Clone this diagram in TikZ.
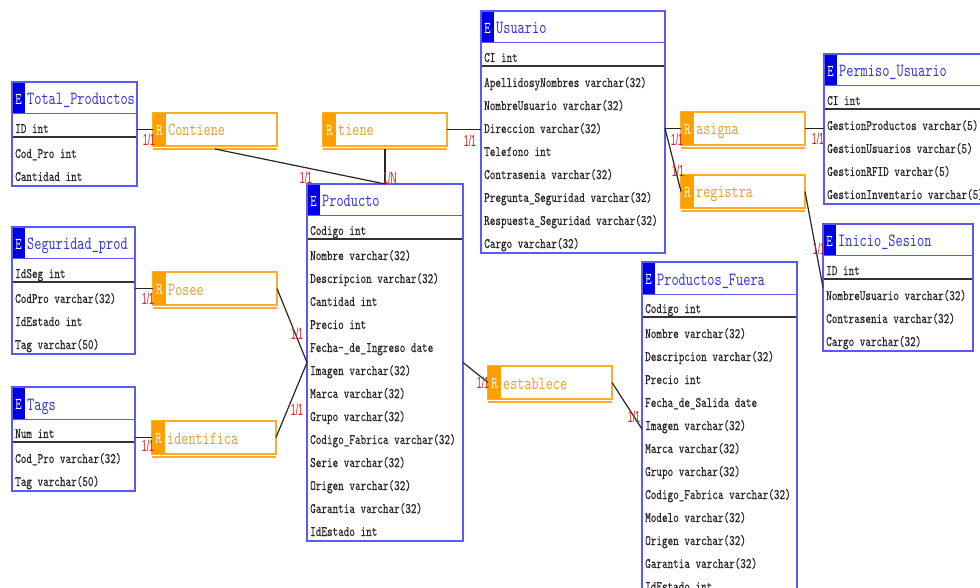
\documentclass[tikz,border=0pt]{standalone}
\usepackage{fontspec}
\usetikzlibrary{calc}
\newfontfamily\ermono{lmmono10-regular.otf}[FakeStretch=0.735]
\newfontfamily\ermonoattr{lmmono10-regular.otf}[FakeStretch=0.735, FakeBold=0.35]
\newfontfamily\cardfont{Liberation Sans}[FakeStretch=0.55]

\definecolor{entborder}{RGB}{90,90,245}
\definecolor{entfill}{RGB}{0,0,228}
\definecolor{enttitle}{RGB}{55,55,215}
\definecolor{attrcol}{RGB}{40,40,40}
\definecolor{relborder}{RGB}{255,172,40}
\definecolor{relfill}{RGB}{255,160,0}
\definecolor{reltextcol}{RGB}{228,160,60}
\definecolor{cardcol}{RGB}{225,30,30}

\tikzset{
  entbox/.style={draw=entborder, line width=1.3pt, fill=white, rectangle, inner sep=0pt, outer sep=0pt},
  entsep/.style={draw=entborder, line width=1pt},
  keyline/.style={draw=black!80, line width=1.8pt},
  titletext/.style={text=enttitle, inner sep=0pt, font=\ermono\fontsize{18.6}{19}\selectfont},
  tagtext/.style={text=white, inner sep=0pt, font=\ermono\fontsize{16.5}{17}\selectfont},
  attrtext/.style={text=attrcol, inner sep=0pt, font=\ermonoattr\fontsize{14.5}{15}\selectfont},
  relbox/.style={draw=relborder, line width=1.3pt, fill=white, rectangle, inner sep=0pt, outer sep=0pt},
  relline/.style={draw=relborder, line width=1.3pt},
  reltext/.style={text=reltextcol, inner sep=0pt, font=\ermono\fontsize{18.4}{19}\selectfont},
  conn/.style={draw=black!85, line width=1.2pt},
  card/.style={text=cardcol, inner sep=0pt, font=\cardfont\fontsize{16}{17}\selectfont}
}

% entity: name, left, top, width, number of attribute rows, title, key, attributes
\newcommand\erentity[8]{%
  \pgfmathsetmacro\entheight{58+23*#5}%
  \node[entbox, anchor=north west, minimum width=#4pt, minimum height=\entheight pt] (#1) at (#2,#3) {};
  \fill[entfill] (#1.north west) rectangle ++(13,32);
  \draw[entsep] ($(#1.north west)+(0,32)$) -- ($(#1.north east)+(0,32)$);
  \node[tagtext, anchor=base] (#1-tag) at ($(#1.north west)+(6.5,22.5)$) {E};
  \node[titletext, anchor=base west] (#1-title) at ($(#1.north west)+(15,23)$) {#6};
  \node[attrtext, anchor=base west] (#1-key) at ($(#1.north west)+(3,51)$) {#7};
  \draw[keyline] ($(#1.north west)+(0,55)$) -- ($(#1.north east)+(0,55)$);
  \foreach \attr [count=\i] in {#8} {
    \node[attrtext, anchor=base west] (#1-a\i) at ($(#1.north west)+(3,53+23*\i)$) {\attr};
  }
  \draw[draw=entborder, line width=1.3pt] (#1.north west) rectangle (#1.south east);
}

% relationship: name, left, top, label
\newcommand\errel[4]{%
  \node[relbox, anchor=north west, minimum width=124pt, minimum height=33pt] (#1) at (#2,#3) {};
  \fill[relfill] (#1.north west) rectangle ++(13,33);
  \draw[relline] ($(#1.south west)+(0,3)$) -- ($(#1.south east)+(0,3)$);
  \node[tagtext, text=white!90!yellow, anchor=base] (#1-tag) at ($(#1.north west)+(6.5,22.5)$) {R};
  \node[reltext, anchor=base west] (#1-label) at ($(#1.north west)+(15,23)$) {#4};
}

\begin{document}
\begin{tikzpicture}[x=1pt, y=-1pt]
  \useasboundingbox (0,0) rectangle (980,588);
  \fill[white] (0,0) rectangle (980,588);
  \clip (0,0) rectangle (980,588);

  % entities
  \erentity{tot}{12}{82}{125}{2}{Total\_Productos}{ID int}{Cod\_Pro int, Cantidad int}
  \erentity{seg}{12}{227}{123}{3}{Seguridad\_prod}{IdSeg int}{CodPro varchar(32), IdEstado int, Tag varchar(50)}
  \erentity{tags}{12}{387}{123}{2}{Tags}{Num int}{Cod\_Pro varchar(32), Tag varchar(50)}
  \erentity{prod}{307}{184}{156}{13}{Producto}{Codigo int}{Nombre varchar(32), Descripcion varchar(32), Cantidad int, Precio int, Fecha-\_de\_Ingreso date, Imagen varchar(32), Marca varchar(32), Grupo varchar(32), Codigo\_Fabrica varchar(32), Serie varchar(32), Origen varchar(32), Garantia varchar(32), IdEstado int}
  \erentity{usr}{481}{11}{184}{8}{Usuario}{CI int}{ApellidosyNombres varchar(32), NombreUsuario varchar(32), Direccion varchar(32), Telefono int, Contrasenia varchar(32), Pregunta\_Seguridad varchar(32), Respuesta\_Seguridad varchar(32), Cargo varchar(32)}
  \erentity{perm}{824}{54}{172}{4}{Permiso\_Usuario}{CI int}{GestionProductos varchar(5), GestionUsuarios varchar(5), GestionRFID varchar(5), GestionInventario varchar(5)}
  \erentity{ini}{823}{224}{150}{3}{Inicio\_Sesion}{ID int}{NombreUsuario varchar(32), Contrasenia varchar(32), Cargo varchar(32)}
  \erentity{pf}{642}{262}{155}{12}{Productos\_Fuera}{Codigo int}{Nombre varchar(32), Descripcion varchar(32), Precio int, Fecha\_de\_Salida date, Imagen varchar(32), Marca varchar(32), Grupo varchar(32), Codigo\_Fabrica varchar(32), Modelo varchar(32), Origen varchar(32), Garantia varchar(32), IdEstado int}

  % relationships
  \errel{contiene}{153}{113}{Contiene}
  \errel{tiene}{323}{113}{tiene}
  \errel{asigna}{681}{112}{asigna}
  \errel{registra}{681}{175}{registra}
  \errel{posee}{153}{272}{Posee}
  \errel{identifica}{152}{421}{identifica}
  \errel{establece}{488}{366}{establece}

  % connectors
  \draw[conn] (contiene.west -| tot.east) -- (contiene.west);
  \draw[conn] ($(contiene.south)+(0,3)$) -- (prod.north);
  \draw[conn] ($(tiene.south)+(0,3)$) -- (prod.north);
  \draw[conn] (tiene.east) -- (tiene.east -| usr.west);
  \draw[conn] (asigna.west -| usr.east) -- (asigna.west);
  \draw[conn] (asigna.west -| usr.east) -- (registra.west);
  \draw[conn] (asigna.east) -- (asigna.east -| perm.west);
  \draw[conn] (registra.east) -- (ini.west);
  \draw[conn] (posee.west -| seg.east) -- (posee.west);
  \draw[conn] (posee.east) -- (prod.west);
  \draw[conn] (identifica.west -| tags.east) -- (identifica.west);
  \draw[conn] (identifica.east) -- (prod.west);
  \draw[conn] (prod.east) -- (establece.west);
  \draw[conn] (establece.east) -- (pf.west);

  % cardinalities
  \node[card] (c1) at (149,140) {1/1};
  \node[card] (c2) at (306,178) {1/1};
  \node[card] (c3) at (390,178) {1/N};
  \node[card] (c4) at (470,141) {1/1};
  \node[card] (c5) at (677,140) {1/1};
  \node[card] (c6) at (678,171) {1/1};
  \node[card] (c7) at (818,139) {1/1};
  \node[card] (c8) at (819,249) {1/1};
  \node[card] (c9) at (148,299) {1/1};
  \node[card] (c10) at (297,334) {1/1};
  \node[card] (c11) at (297,410) {1/1};
  \node[card] (c12) at (148,446) {1/1};
  \node[card] (c13) at (483,383) {1/1};
  \node[card] (c14) at (634,417) {1/1};
\end{tikzpicture}
\end{document}
